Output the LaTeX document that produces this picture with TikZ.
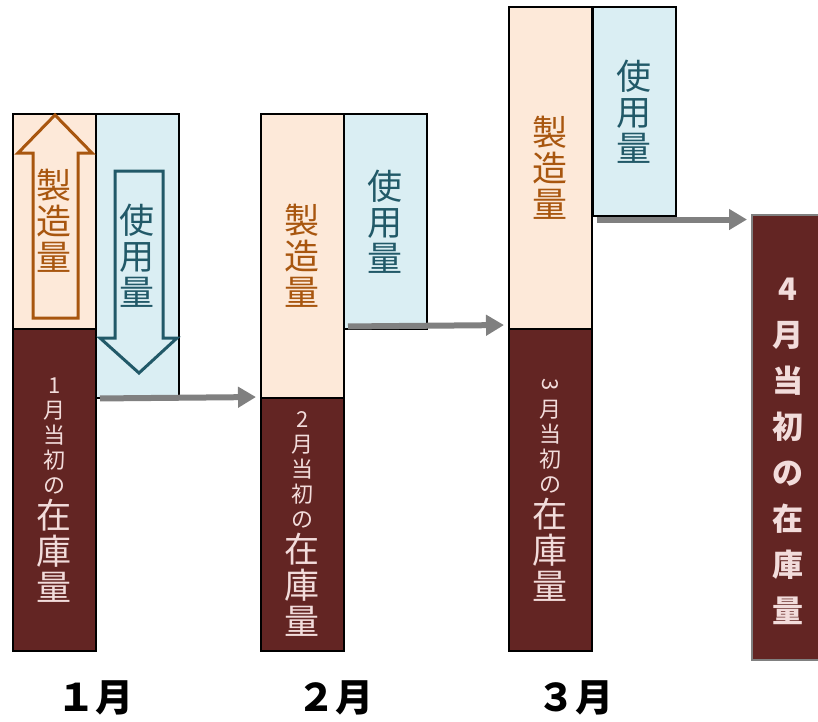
\documentclass[tikz,border=0pt]{standalone}
\usepackage{fontspec}
\setmainfont{Noto Sans CJK JP}
\usetikzlibrary{arrows.meta}
\definecolor{peach}{HTML}{FDE9D9}
\definecolor{ice}{HTML}{DAEEF3}
\definecolor{wine}{HTML}{632523}
\definecolor{rust}{HTML}{A8560F}
\definecolor{slate}{HTML}{215968}
\definecolor{blush}{HTML}{F2DCDB}
\definecolor{flowgray}{HTML}{808080}
\newcommand\smallch{\fontsize{22}{25}\selectfont\lineskiplimit=-100pt}
\newcommand\largech{\fontsize{35}{25}\selectfont\lineskiplimit=-100pt}

\begin{document}
\begin{tikzpicture}[x=1pt, y=-1pt,
    box/.style={draw, line width=1.5pt, inner sep=0pt, anchor=north west,
                align=center, minimum width=83pt},
    prod/.style={box, fill=peach, text=rust, font=\fontsize{35}{36}\selectfont},
    use/.style={box, fill=ice, text=slate, font=\fontsize{35}{36}\selectfont},
    stock/.style={box, fill=wine, text=blush, font=\smallch},
    flow/.style={draw=flowgray, line width=6pt, -{Triangle[length=18pt,width=20pt]},
                 shorten <=5pt, shorten >=4pt},
    month/.style={font=\fontsize{38}{40}\selectfont\bfseries}]
  \useasboundingbox (0,0) rectangle (818,721);

  % 1月
  \node[prod, minimum height=215pt] (p1) at (12,113) {製\\造\\量};
  \node[stock, minimum height=322pt] (s1) at (12,328)
        {1\\月\\当\\初\\の\\[10pt]\largech 在\\[11pt]\largech 庫\\[11pt]\largech 量};
  \node[use, minimum height=284pt] (u1) at (95,113) {使\\用\\量};
  \draw[rust, line width=3pt] (55,115) -- (92,153) -- (78,153) -- (78,318) -- (33,318)
        -- (33,153) -- (18,153) -- cycle;
  \draw[slate, line width=3pt] (115,171) -- (163,171) -- (163,338) -- (177,338) -- (139,373)
        -- (100,338) -- (115,338) -- cycle;

  % 2月
  \node[prod, minimum height=284pt] (p2) at (260,113) {製\\造\\量};
  \node[stock, minimum height=253pt] (s2) at (260,397)
        {2\\月\\当\\初\\の\\[10pt]\largech 在\\[11pt]\largech 庫\\[11pt]\largech 量};
  \node[use, minimum height=215pt] (u2) at (343,113) {使\\用\\量};

  % 3月
  \node[prod, minimum height=322pt] (p3) at (508,6) {製\\造\\量};
  \node[stock, minimum height=322pt] (s3) at (508,328)
        {\rotatebox[origin=c]{-90}{3}\\月\\当\\初\\の\\[10pt]\largech 在\\[11pt]\largech 庫\\[11pt]\largech 量};
  \node[use, minimum height=209pt] (u3) at (592,6) {使\\用\\量};

  % 4月
  \node[box, draw=flowgray, line width=2pt, fill=wine, minimum width=72pt,
        minimum height=445pt] (s4) at (751,214) {};
  \node[text=blush, align=center, font=\fontsize{31}{46}\selectfont\bfseries]
        (t4) at ([yshift=-14pt]s4.center) {4\\月\\当\\初\\の\\在\\庫\\量};

  % 繰越
  \draw[flow] (u1.south west) -- (s2.north west);
  \draw[flow] ([yshift=3pt]u2.south west) -- ([yshift=3pt]s3.north west);
  \draw[flow] ([yshift=-3pt]u3.south west) -- ([yshift=-3pt]u3.south west -| s4.west);

  \node[month] (m1) at (95,698) {１月};
  \node[month] (m2) at (335,698) {２月};
  \node[month] (m3) at (575,698) {３月};
\end{tikzpicture}
\end{document}
